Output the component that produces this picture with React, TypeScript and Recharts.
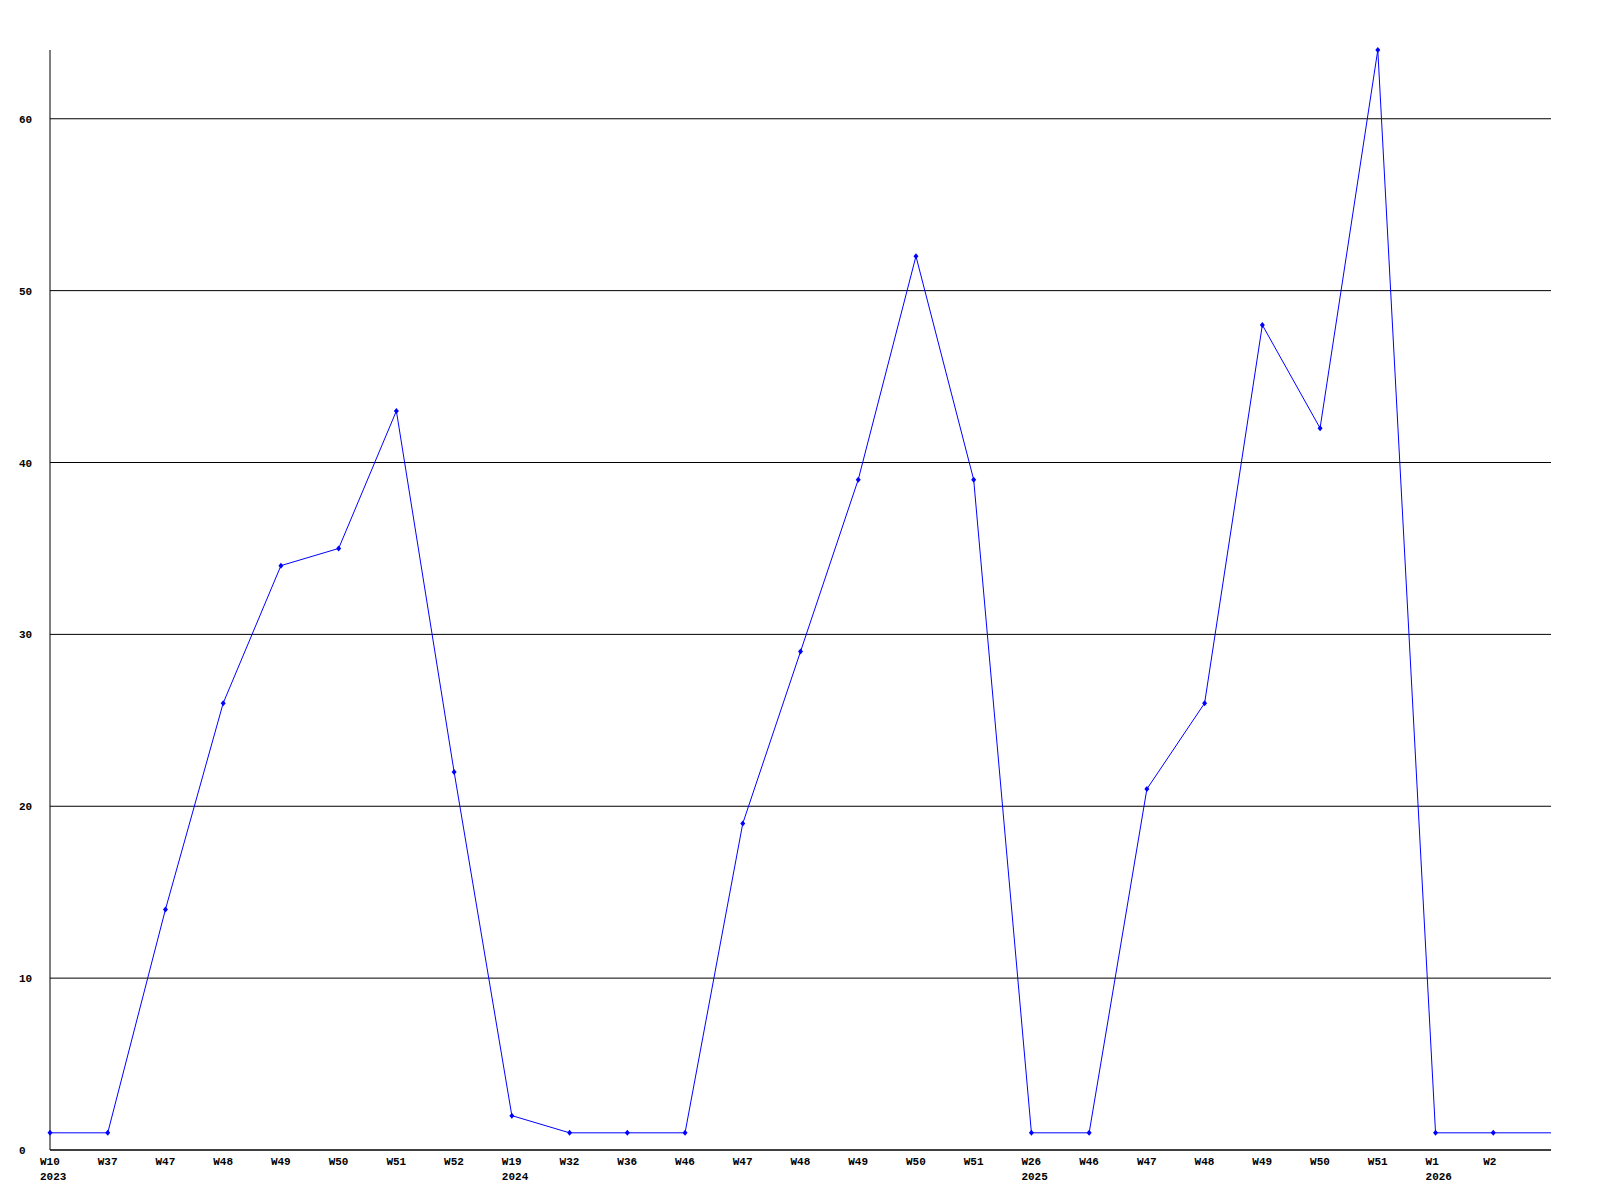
import React from "react";
import {
  LineChart,
  Line,
  XAxis,
  YAxis,
  ReferenceLine,
} from "recharts";

const weeks = [
  "W10", "W37", "W47", "W48", "W49", "W50", "W51", "W52",
  "W19", "W32", "W36", "W46", "W47", "W48", "W49", "W50", "W51",
  "W26", "W46", "W47", "W48", "W49", "W50", "W51",
  "W1", "W2", "",
];

const years = [
  "2023", "", "", "", "", "", "", "",
  "2024", "", "", "", "", "", "", "", "",
  "2025", "", "", "", "", "", "",
  "2026", "", "",
];

const counts = [
  1, 1, 14, 26, 34, 35, 43, 22,
  2, 1, 1, 1, 19, 29, 39, 52, 39,
  1, 1, 21, 26, 48, 42, 64,
  1, 1, 1,
];

const yTicks = [0, 10, 20, 30, 40, 50, 60];

const data = counts.map((v, i) => ({ idx: i, value: v }));

const FONT = "'Liberation Mono', 'DejaVu Sans Mono', monospace";

const WeekTick = (props: any) => {
  const { x, y, payload } = props;
  const i = payload.value as number;
  return (
    <g>
      <text x={x - 10} y={y + 13} fontFamily={FONT} fontSize={11} fontWeight="bold" fill="#000">
        {weeks[i]}
      </text>
      {years[i] && (
        <text x={x - 10} y={y + 28} fontFamily={FONT} fontSize={11} fontWeight="bold" fill="#000">
          {years[i]}
        </text>
      )}
    </g>
  );
};

const CountTick = (props: any) => {
  const { y, payload } = props;
  return (
    <text x={19} y={y + 4} fontFamily={FONT} fontSize={11} fontWeight="bold" fill="#000">
      {payload.value}
    </text>
  );
};

const Marker = (props: any) => {
  const { cx, cy, index } = props;
  if (index === counts.length - 1) return <g key={`m-${index}`} />;
  return (
    <polygon
      key={`m-${index}`}
      points={`${cx},${cy - 3} ${cx + 2.5},${cy} ${cx},${cy + 3} ${cx - 2.5},${cy}`}
      fill="#0000ff"
    />
  );
};

export default function App() {
  return (
    <div style={{ position: "absolute", left: 0, top: 0, width: 1600, height: 1200, background: "#fff" }}>
      <LineChart
        width={1600}
        height={1200}
        data={data}
        margin={{ top: 50, right: 49, bottom: 0, left: 0 }}
      >
        {yTicks.slice(1).map((t) => (
          <ReferenceLine key={t} y={t} stroke="#000" strokeWidth={1} ifOverflow="extendDomain" />
        ))}
        <XAxis
          dataKey="idx"
          type="category"
          interval={0}
          height={50}
          tick={<WeekTick />}
          tickLine={false}
          tickSize={0}
          axisLine={{ stroke: "#000", strokeWidth: 1.5 }}
        />
        <YAxis
          domain={[0, 64]}
          ticks={yTicks}
          width={50}
          tick={<CountTick />}
          tickLine={false}
          axisLine={{ stroke: "#000", strokeWidth: 1 }}
        />
        <Line
          type="linear"
          dataKey="value"
          stroke="#0000ff"
          strokeWidth={1}
          dot={<Marker />}
          activeDot={false}
          isAnimationActive={false}
        />
      </LineChart>
    </div>
  );
}
